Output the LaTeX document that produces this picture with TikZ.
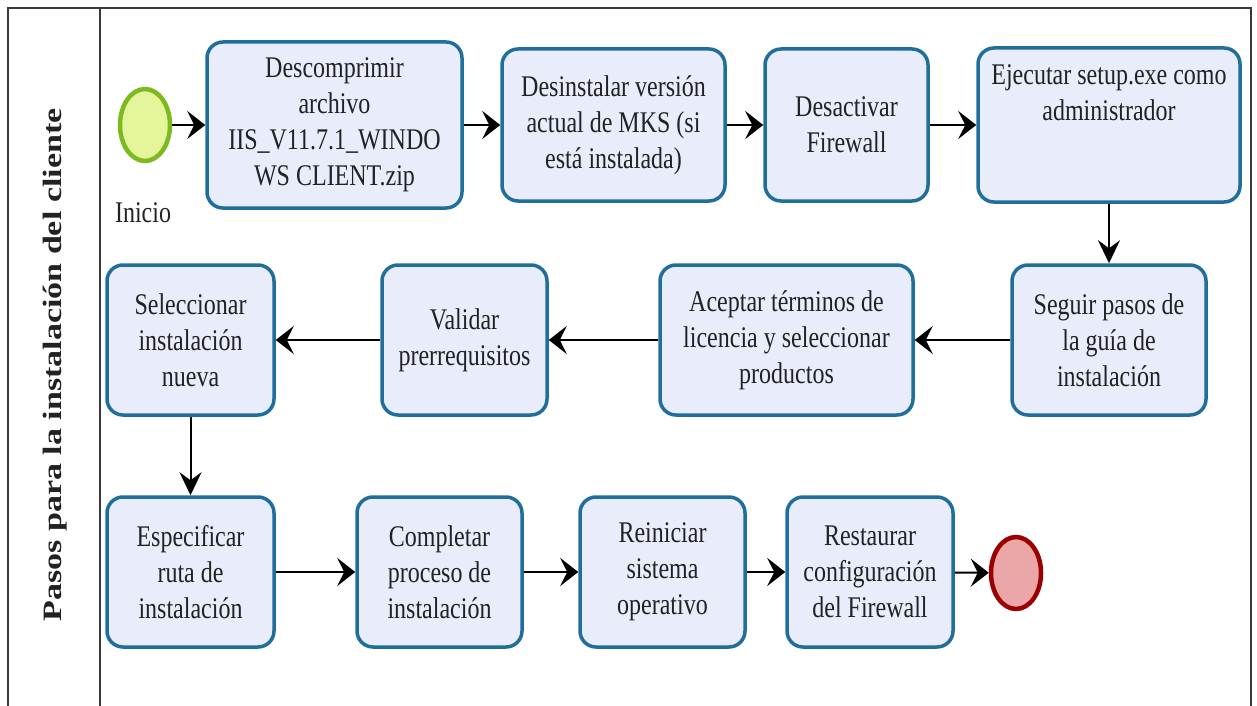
\documentclass[tikz,border=0pt]{standalone}
\usepackage{fontspec}
\setmainfont[FakeStretch=0.8]{Liberation Serif}
\newfontfamily\lanefont{Liberation Serif}
\usetikzlibrary{arrows.meta,shapes.geometric}

\definecolor{boxfill}{HTML}{E9EDFB}
\definecolor{boxline}{HTML}{1F6E9C}
\definecolor{txtcol}{HTML}{222222}
\definecolor{startfill}{HTML}{E5F59B}
\definecolor{startline}{HTML}{7DBA1F}
\definecolor{endfill}{HTML}{EBA7A8}
\definecolor{endline}{HTML}{9A0000}
\definecolor{rulecol}{HTML}{3A3A3A}

\tikzset{
  stepbox/.style={draw=boxline, fill=boxfill, line width=3.5pt, rounded corners=16pt,
    align=center, text=txtcol, font=\fontsize{30}{36}\selectfont, inner sep=3pt},
  steptext/.style={align=center, text=txtcol, font=\fontsize{30}{36}\selectfont, inner sep=0pt},
  startev/.style={ellipse, draw=startline, fill=startfill, line width=4.5pt,
    minimum width=50pt, minimum height=72pt, inner sep=0pt},
  endev/.style={ellipse, draw=endline, fill=endfill, line width=4.5pt,
    minimum width=50pt, minimum height=72pt, inner sep=0pt},
  hflow/.style={line width=2pt, -{Stealth[length=18pt,width=28pt,inset=7pt]}},
  vflow/.style={line width=2pt, -{Stealth[length=23pt,width=22pt,inset=8pt]}},
  lanerule/.style={line width=2pt, draw=rulecol},
}

\begin{document}
\begin{tikzpicture}[x=1pt, y=-1pt]
\useasboundingbox (0,0) rectangle (1257,706);

% pool frame and lane header
\draw[lanerule] (8,706) -- (8,8) -- (1251,8) -- (1251,706);
\draw[lanerule] (100,8) -- (100,706);
\node[rotate=90, text=txtcol, inner sep=0pt] (lane) at (55,365)
  {\scalebox{1}[0.78]{\lanefont\bfseries\fontsize{34}{40}\selectfont Pasos para la instalación del cliente}};

% row 1
\node[startev] (start) at (145,125) {};
\node[steptext] (startlbl) at (143,213) {Inicio};
\node[stepbox, minimum width=255pt, minimum height=166pt] (d1) at (334.5,125)
  {Descomprimir\\archivo\\IIS\_V11.7.1\_WINDO\\WS CLIENT.zip};
\node[stepbox, minimum width=223pt, minimum height=152pt] (d2) at (613.5,125)
  {Desinstalar versión\\actual de MKS (si\\está instalada)};
\node[stepbox, minimum width=163pt, minimum height=152pt] (d3) at (846.5,125)
  {Desactivar\\Firewall};
\node[stepbox, minimum width=262pt, minimum height=154pt] (d4) at (1109,125) {};
\node[steptext, anchor=north] (d4txt) at (1109,64) {Ejecutar setup.exe como\\administrador};

% row 2
\node[stepbox, minimum width=194pt, minimum height=150pt] (s1) at (1109,340)
  {Seguir pasos de\\la guía de\\instalación};
\node[stepbox, minimum width=253pt, minimum height=150pt] (s2) at (786.5,340)
  {Aceptar términos de\\licencia y seleccionar\\productos};
\node[stepbox, minimum width=165pt, minimum height=150pt] (s3) at (464.5,340)
  {Validar\\prerrequisitos};
\node[stepbox, minimum width=167pt, minimum height=150pt] (s4) at (190.5,340)
  {Seleccionar\\instalación\\nueva};

% row 3
\node[stepbox, minimum width=167pt, minimum height=150pt] (r1) at (190.5,572)
  {Especificar\\ruta de\\instalación};
\node[stepbox, minimum width=165pt, minimum height=150pt] (r2) at (439.5,572)
  {Completar\\proceso de\\instalación};
\node[stepbox, minimum width=165pt, minimum height=150pt] (r3) at (662.5,572)
  {Reiniciar\\sistema\\operativo};
\node[stepbox, minimum width=166pt, minimum height=150pt] (r4) at (870,572)
  {Restaurar\\configuración\\del Firewall};
\node[endev] (end) at (1016,573) {};

% sequence flows
\draw[hflow] (start) -- (d1);
\draw[hflow] (d1) -- (d2);
\draw[hflow] (d2) -- (d3);
\draw[hflow] (d3) -- (d4);
\draw[vflow] (d4) -- (s1);
\draw[hflow] (s1) -- (s2);
\draw[hflow] (s2) -- (s3);
\draw[hflow] (s3) -- (s4);
\draw[vflow] (s4) -- (r1);
\draw[hflow] (r1) -- (r2);
\draw[hflow] (r2) -- (r3);
\draw[hflow] (r3) -- (r4);
\draw[hflow] (r4) -- (end);
\end{tikzpicture}
\end{document}
